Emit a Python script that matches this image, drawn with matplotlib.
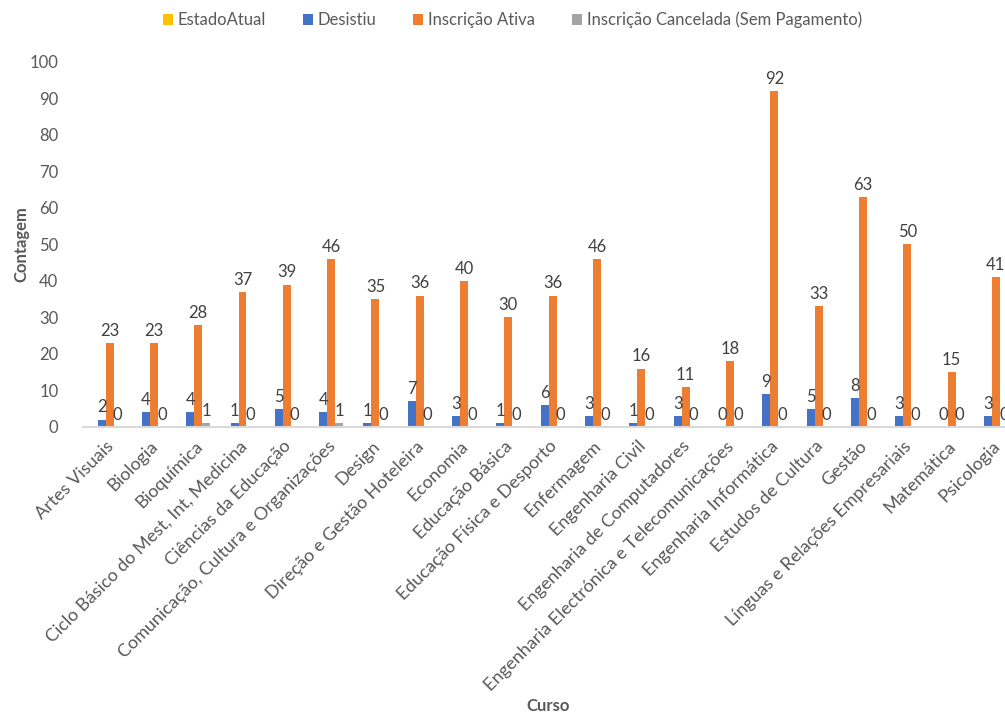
import numpy as np
import matplotlib.pyplot as plt

plt.rcParams['font.family'] = ['Lato', 'DejaVu Sans']

cursos = ['Artes Visuais', 'Biologia', 'Bioquímica', 'Ciclo Básico do Mest, Int, Medicina',
          'Ciências da Educação', 'Comunicação, Cultura e Organizações', 'Design',
          'Direção e Gestão Hoteleira', 'Economia', 'Educação Básica',
          'Educação Física e Desporto', 'Enfermagem', 'Engenharia Civil',
          'Engenharia de Computadores', 'Engenharia Electrónica e Telecomunicações',
          'Engenharia Informática', 'Estudos de Cultura', 'Gestão',
          'Línguas e Relações Empresariais', 'Matemática', 'Psicologia']
estado_atual = [np.nan] * len(cursos)  # series without values
desistiu = [2, 4, 4, 1, 5, 4, 1, 7, 3, 1, 6, 3, 1, 3, 0, 9, 5, 8, 3, 0, 3]
inscricao_ativa = [23, 23, 28, 37, 39, 46, 35, 36, 40, 30, 36, 46, 16, 11, 18, 92, 33, 63, 50, 15, 41]
cancelada = [0, 0, 1, 0, 0, 1, 0, 0, 0, 0, 0, 0, 0, 0, 0, 0, 0, 0, 0, 0, 0]

series = [('EstadoAtual', estado_atual, '#FFC000'),
          ('Desistiu', desistiu, '#4472C4'),
          ('Inscrição Ativa', inscricao_ativa, '#ED7D31'),
          ('Inscrição Cancelada (Sem Pagamento)', cancelada, '#A5A5A5')]

fig = plt.figure(figsize=(10.05, 7.2), dpi=100)
ax = fig.add_axes([0.083, 0.407, 0.926, 0.507])

x = np.arange(len(cursos))
w = 0.18
for i, (name, vals, col) in enumerate(series):
    off = (i - 1.5) * w
    ax.bar(x + off, vals, w, color=col, label=name)
    if name != 'EstadoAtual':
        for xi, v in zip(x, vals):
            ax.annotate(str(v), (xi + off, v), xytext=(0, 3), textcoords='offset points',
                        ha='center', va='bottom', fontsize=12, color='#404040')

ax.set_xlim(-0.5, len(cursos) - 0.5)
ax.set_ylim(0, 100)
ax.set_yticks(range(0, 101, 10))
ax.set_xticks(x)
ax.set_xticklabels(cursos, rotation=45, ha='right', rotation_mode='anchor', fontsize=13)
ax.tick_params(axis='both', length=0, colors='#595959')
ax.tick_params(axis='y', labelsize=12, pad=18)
ax.tick_params(axis='x', pad=8)
for s in ['top', 'right', 'left']:
    ax.spines[s].set_visible(False)
ax.spines['bottom'].set_color('#D9D9D9')
ax.spines['bottom'].set_linewidth(1.5)

ax.set_ylabel('Contagem', fontsize=12, fontweight='bold', color='#595959')
ax.yaxis.set_label_coords(-0.058, 0.5)
fig.text(0.545, 0.012, 'Curso', fontsize=12, fontweight='bold', color='#595959', ha='center')

fig.legend(loc='center', bbox_to_anchor=(0.51, 0.972), ncol=4, frameon=False,
           fontsize=12, handlelength=0.6, handleheight=0.6, handletextpad=0.3,
           columnspacing=2.2, labelcolor='#595959')

fig.savefig('out.png', dpi=100)
